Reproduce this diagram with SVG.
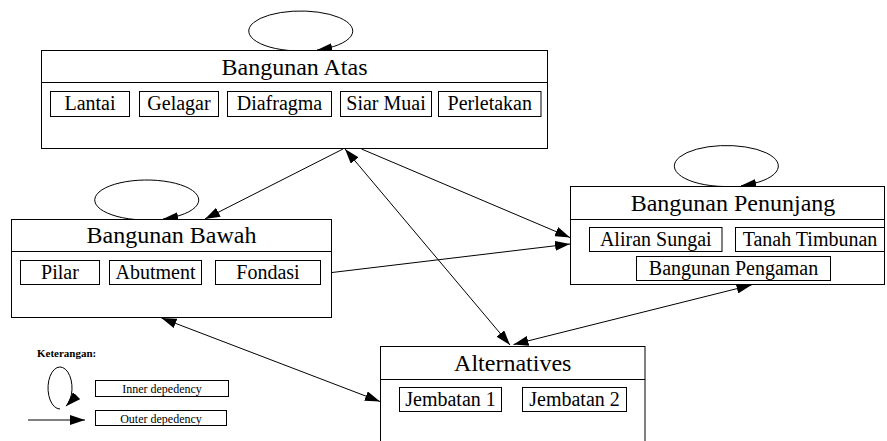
<svg xmlns="http://www.w3.org/2000/svg" width="887" height="441" viewBox="0 0 887 441">
<style>
  .box { fill: #fff; stroke: #000; stroke-width: 1; }
  .div { stroke: #000; stroke-width: 1; fill: none; }
  .item { fill: #fff; stroke: #000; stroke-width: 1; }
  .title { font-family: "Liberation Serif", "Times New Roman", serif; font-size: 24px; fill: #000; text-anchor: middle; }
  .lbl { font-family: "Liberation Serif", "Times New Roman", serif; font-size: 20px; fill: #000; text-anchor: middle; }
  .leg { font-family: "Liberation Serif", "Times New Roman", serif; font-size: 12px; fill: #000; text-anchor: middle; }
  .legh { font-family: "Liberation Serif", "Times New Roman", serif; font-size: 11px; font-weight: bold; fill: #000; }
  .edge { fill: none; stroke: #000; stroke-width: 1; }
  .one { marker-end: url(#ah); }
  .two { marker-end: url(#ah); marker-start: url(#ahs); }
</style>
<defs>
  <marker id="ah" viewBox="0 0 15 10" refX="15" refY="5" markerWidth="15" markerHeight="10" markerUnits="userSpaceOnUse" orient="auto">
    <path d="M0,0 L15,5 L0,10 z" fill="#000"/>
  </marker>
  <marker id="ahs" viewBox="0 0 15 10" refX="15" refY="5" markerWidth="15" markerHeight="10" markerUnits="userSpaceOnUse" orient="auto-start-reverse">
    <path d="M0,0 L15,5 L0,10 z" fill="#000"/>
  </marker>
</defs>
<rect width="887" height="441" fill="#fff"/>

<g id="connectors">
  <path class="edge one" d="M300,51 A52,20 0 1 1 317,50"/>
  <path class="edge one" d="M147.5,220 A52,20 0 1 1 163,219"/>
  <path class="edge one" d="M723.5,186.5 A52,20.5 0 1 1 741,185.7"/>
  <path class="edge one" d="M343,149 L205,219"/>
  <path class="edge one" d="M361.5,149 L570,237.5"/>
  <path class="edge one" d="M332,272.5 L570,244"/>
  <path class="edge two" d="M345,149 L510,345"/>
  <path class="edge two" d="M751.5,285 L513.5,344.5"/>
  <path class="edge two" d="M161.5,318 L380,401.5"/>
</g>

<g id="bangunan-atas">
  <rect class="box" x="41.5" y="50.5" width="506" height="98"/>
  <line class="div" x1="41.5" y1="82.5" x2="547.5" y2="82.5"/>
  <text class="title" x="294.5" y="75">Bangunan Atas</text>
  <rect class="item" x="50.5" y="91.5" width="79" height="25"/>
  <text class="lbl" x="90" y="110">Lantai</text>
  <rect class="item" x="139.5" y="91.5" width="79" height="25"/>
  <text class="lbl" x="179" y="110">Gelagar</text>
  <rect class="item" x="227.5" y="91.5" width="104" height="25"/>
  <text class="lbl" x="279.5" y="110">Diafragma</text>
  <rect class="item" x="340.5" y="91.5" width="91" height="25"/>
  <text class="lbl" x="386" y="110">Siar Muai</text>
  <rect class="item" x="438.5" y="91.5" width="102.5" height="25"/>
  <text class="lbl" x="489.75" y="110">Perletakan</text>
</g>

<g id="bangunan-bawah">
  <rect class="box" x="11.5" y="219.5" width="320" height="98"/>
  <line class="div" x1="11.5" y1="251.5" x2="331.5" y2="251.5"/>
  <text class="title" x="171.5" y="243">Bangunan Bawah</text>
  <rect class="item" x="20.5" y="260.5" width="79" height="24"/>
  <text class="lbl" x="60" y="278.5">Pilar</text>
  <rect class="item" x="109.5" y="260.5" width="92" height="24"/>
  <text class="lbl" x="155.5" y="278.5">Abutment</text>
  <rect class="item" x="215.5" y="260.5" width="105" height="24"/>
  <text class="lbl" x="268" y="278.5">Fondasi</text>
</g>

<g id="bangunan-penunjang">
  <rect class="box" x="570.5" y="186.5" width="314" height="98"/>
  <line class="div" x1="570.5" y1="219.5" x2="884.5" y2="219.5"/>
  <text class="title" x="733" y="211">Bangunan Penunjang</text>
  <rect class="item" x="589.5" y="227.5" width="132.5" height="24"/>
  <text class="lbl" x="655.75" y="246">Aliran Sungai</text>
  <rect class="item" x="735.5" y="227.5" width="149" height="24"/>
  <text class="lbl" x="810" y="246">Tanah Timbunan</text>
  <rect class="item" x="636.5" y="256.5" width="194" height="24"/>
  <text class="lbl" x="733.5" y="275">Bangunan Pengaman</text>
</g>

<g id="alternatives">
  <rect class="box" x="380.5" y="346.5" width="264.5" height="98"/>
  <line class="div" x1="380.5" y1="379.5" x2="645" y2="379.5"/>
  <text class="title" x="512.75" y="370.5">Alternatives</text>
  <rect class="item" x="399.5" y="387.5" width="102" height="24"/>
  <text class="lbl" x="450.5" y="405.5">Jembatan 1</text>
  <rect class="item" x="522.5" y="387.5" width="104" height="24"/>
  <text class="lbl" x="574.5" y="405.5">Jembatan 2</text>
</g>

<g id="legend">
  <text class="legh" x="37" y="357">Keterangan:</text>
  <path class="edge one" d="M60,409 A12,21 0 1 1 66,406.2"/>
  <rect class="item" x="95.5" y="380.5" width="133" height="16"/>
  <text class="leg" x="162" y="393">Inner depedency</text>
  <path class="edge one" d="M28,420 L85,420"/>
  <rect class="item" x="95.5" y="410.5" width="131" height="15"/>
  <text class="leg" x="161" y="422.5">Outer depedency</text>
</g>
</svg>
